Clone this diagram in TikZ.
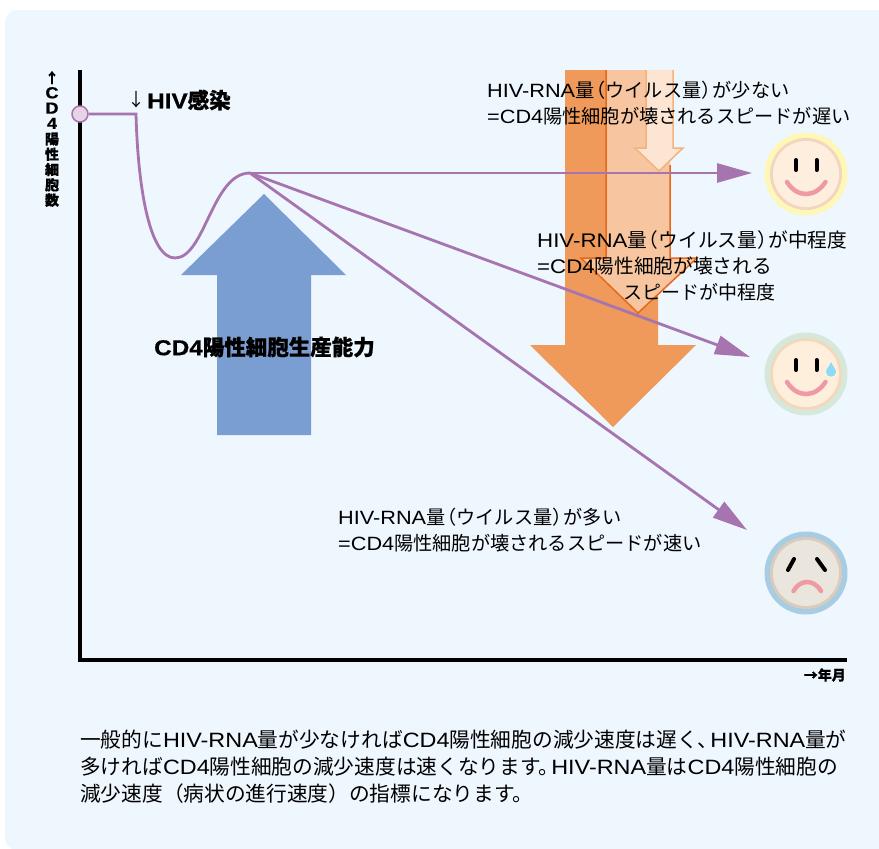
\documentclass[tikz,border=0pt]{standalone}
\usepackage{fontspec}
\usepackage{xcolor}
\usetikzlibrary{positioning, calc, arrows.meta}
\setmainfont{Noto Sans CJK JP}
\newfontfamily\latfont[FakeStretch=1.13]{Liberation Sans}
\newfontfamily\heavyfont[BoldFeatures={FakeBold=0.8}]{Noto Sans CJK JP}
\newfontfamily\heavylat[FakeStretch=1.13, BoldFeatures={FakeBold=0.8}]{Liberation Sans}
\newcommand{\lat}[1]{{\latfont #1}}
\newcommand{\hlat}[1]{{\heavylat\bfseries #1}}
\newcommand{\lp}{\kern-0.42em（}
\newcommand{\rp}{）\kern-0.42em}
\definecolor{panelblue}{RGB}{238,246,254}
\definecolor{curvepurple}{RGB}{166,116,174}
\definecolor{dotpurple}{RGB}{230,211,230}
\definecolor{arrowblue}{RGB}{123,158,210}
\definecolor{arroworange}{RGB}{239,154,91}
\definecolor{midorange}{RGB}{247,198,160}
\definecolor{edgeorange}{RGB}{232,104,26}
\definecolor{loworange}{RGB}{253,229,211}
\definecolor{lowedge}{RGB}{243,178,126}
\definecolor{smilepink}{RGB}{238,154,165}

\begin{document}
\begin{tikzpicture}[x=1pt, y=-1pt]
	\tikzstyle{bodytext}=[anchor=west, align=left, inner sep=0pt, font=\fontsize{19.2}{26}\selectfont]
	\tikzstyle{boldtext}=[anchor=west, inner sep=0pt, font=\fontsize{21.5}{24}\selectfont\heavyfont\bfseries]
	\tikzstyle{smalltext}=[inner sep=0pt, align=center, font=\fontsize{14}{15.3}\selectfont\heavyfont\bfseries]
	\tikzstyle{curveline}=[draw=curvepurple, line width=2.8pt]
	\tikzstyle{curvearrow}=[curveline, -{Triangle[length=35pt, width=19pt]}]
	\tikzstyle{eyeline}=[line width=4pt, line cap=round, black]
	\tikzstyle{mouthline}=[line width=4.5pt, line cap=round, smilepink]

	\useasboundingbox (0,0) rectangle (879,849);
	\fill[panelblue, rounded corners=12pt] (5,10) rectangle (895,850);

	% axes
	\draw[line width=4.7pt, line cap=rect] (80,72) -- (80,660) -- (845,660);

	% production and destruction arrows
	\fill[arrowblue] (264,194) -- (346,275) -- (311,275) -- (311,435) -- (217,435) -- (217,275) -- (181,275) -- cycle;
	\fill[arroworange] (565,70) -- (658,70) -- (658,345) -- (696,345) -- (613,427) -- (530,345) -- (565,345) -- cycle;
	\fill[midorange] (606,70) -- (670,70) -- (670,258) -- (697,258) -- (638,313) -- (581,258) -- (606,258) -- cycle;
	\draw[edgeorange, line width=1.5pt] (606,70) -- (606,258) -- (581,258) -- (638,313) -- (697,258) -- (670,258) -- (670,165);
	\draw[lowedge, line width=1.5pt, fill=loworange] (646,70) -- (646,148) -- (635,148) -- (659,171) -- (683,148) -- (673,148) -- (673,70);

	% faces
	\foreach \y/\rim/\ring/\skin in {174/255 247 181/243 214 192/254 238 221, 374/214 232 218/243 216 190/254 239 221, 573/168 205 226/218 203 188/235 230 221}{
		\definecolor{rimcolor}{RGB}{\rim}
		\definecolor{ringcolor}{RGB}{\ring}
		\definecolor{skincolor}{RGB}{\skin}
		\fill[rimcolor] (806,\y) circle (41.5);
		\fill[ringcolor] (806,\y) circle (36);
		\fill[skincolor] (806,\y) circle (33);
	}
	\foreach \y in {174,374}{
		\draw[eyeline] (796,\y-14) -- (796,\y-4);
		\draw[eyeline] (816.5,\y-14) -- (816.5,\y-4);
		\draw[mouthline] (787,\y+8) .. controls (797,\y+24) and (815,\y+24) .. (825.5,\y+8);
	}
	\fill[cyan!45!white] (831,362) .. controls (829,367) and (826,369) .. (826,372) .. controls (826,378) and (836,378) .. (836,372) .. controls (836,369) and (833,367) .. (831,362) -- cycle;
	\draw[eyeline] (794,559) -- (788,570);
	\draw[eyeline] (817,559) -- (825,570);
	\draw[mouthline] (793.5,591) .. controls (800,579) and (814,579) .. (821,591);

	% infection curve
	\node[circle, draw=curvepurple, fill=dotpurple, line width=1.5pt, minimum size=16pt, inner sep=0pt] (start) at (80,114) {};
	\coordinate (infect) at (136,114);
	\coordinate (peak) at (250,173);
	\coordinate (tipslow) at (752,173);
	\coordinate (tipmid) at (750,357);
	\coordinate (tipfast) at (747,530);
	\draw[curveline] (start) -- (infect) .. controls (138,190) and (150,258) .. (175,258) .. controls (205,258) and (212,173) .. (peak);
	\draw[curvearrow] (peak) -- (tipslow);
	\draw[curvearrow] (peak) -- (tipmid);
	\draw[curvearrow] (peak) -- (tipfast);

	% labels
	\node[smalltext, anchor=north] (yaxis) at (52,71) {↑\\\hlat{\fontsize{16}{15.3}\selectfont C}\\\hlat{\fontsize{16}{15.3}\selectfont D}\\\hlat{\fontsize{16}{15.3}\selectfont 4}\\陽\\性\\細\\胞\\数};
	\node[anchor=center, inner sep=0pt, font=\fontsize{18}{24}\selectfont] (hivarrow) at (136,100) {↓};
	\node[boldtext] (hivlabel) at (147,100) {\hlat{HIV}感染};
	\node[boldtext] (produce) at (154,347) {\hlat{CD4}陽性細胞生産能力};
	\node[smalltext, anchor=east] (xaxis) at (846,675) {→年月};
	\node[bodytext] (slowtext) at (487,103) {\lat{HIV-RNA}量\lp ウイルス量\rp が少ない\\\lat{=CD4}陽性細胞が壊されるスピードが遅い};
	\node[bodytext, font=\fontsize{19.7}{26}\selectfont] (midtext) at (537,266) {\lat{HIV-RNA}量\lp ウイルス量\rp が中程度\\\lat{=CD4}陽性細胞が壊される\\\hspace*{86pt}\fontsize{19}{26}\selectfont スピードが中程度};
	\node[bodytext] (fasttext) at (338,530) {\lat{HIV-RNA}量\lp ウイルス量\rp が多い\\\lat{=CD4}陽性細胞が壊されるスピードが速い};
	\node[bodytext, font=\fontsize{20.7}{27}\selectfont] (summary) at (80,767) {一般的に\lat{HIV-RNA}量が少なければ\lat{CD4}陽性細胞の減少速度は遅く、\kern-0.4em\lat{HIV-RNA}量が\\多ければ\lat{CD4}陽性細胞の減少速度は速くなります。\kern-0.4em\lat{HIV-RNA}量は\lat{CD4}陽性細胞の\\減少速度（病状の進行速度）の指標になります。};
\end{tikzpicture}
\end{document}
